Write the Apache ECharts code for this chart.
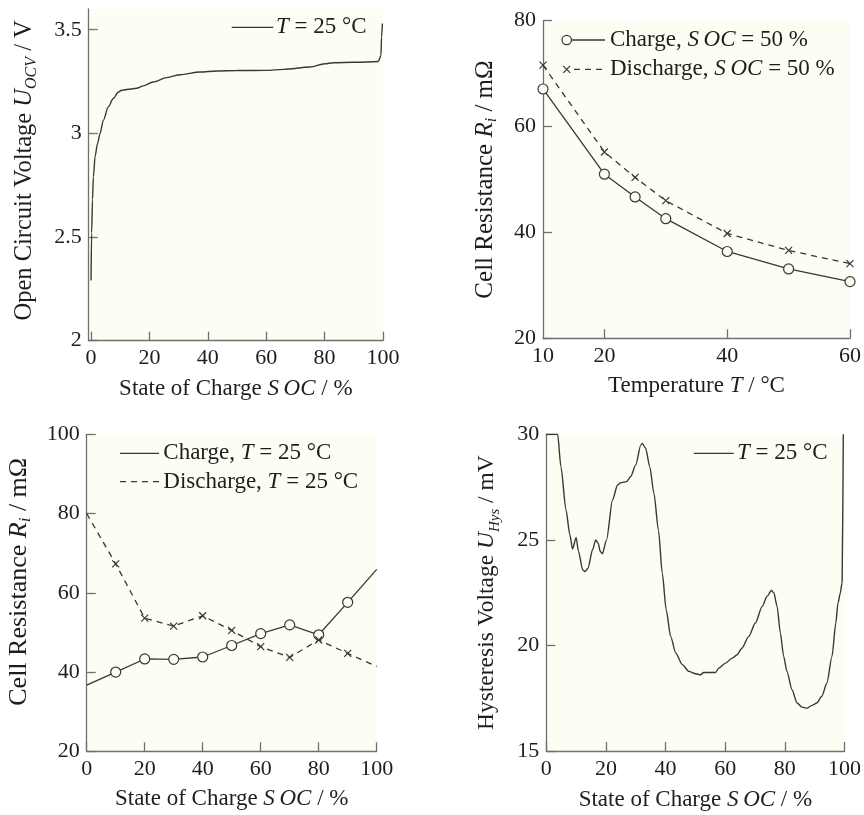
<!DOCTYPE html>
<html>
<head>
<meta charset="utf-8">
<script src="https://cdn.jsdelivr.net/npm/echarts@6/dist/echarts.min.js"></script>
<style>
  html, body { margin: 0; padding: 0; background: #ffffff; }
  #chart { width: 864px; height: 815px; }
</style>
</head>
<body>
<div id="chart"></div>
<script>
// Open circuit voltage over state of charge, T = 25 °C
const ocvSoc = [0, 0.2, 0.5, 0.8, 1.4, 2.2, 3.1, 4.2, 5.9, 7.6, 9.4, 10.5, 12.8, 15.6, 17.9, 21.3,
  25.9, 30.5, 37.3, 43.0, 50.0, 60.0, 65.9, 75.0, 80.1, 83.0, 90.0, 94.4, 98.4, 99.3, 99.5, 99.8];
const ocvVoltage = [2.29, 2.52, 2.68, 2.79, 2.89, 2.95, 3.0, 3.063, 3.128, 3.168, 3.2, 3.208, 3.213, 3.218, 3.229, 3.248,
  3.269, 3.283, 3.296, 3.301, 3.303, 3.304, 3.309, 3.32, 3.336, 3.341, 3.343, 3.344, 3.347, 3.376, 3.465, 3.53];

// Cell resistance over temperature, SOC = 50 %
const tempC = [10, 20, 25, 30, 40, 50, 60];
const resChargeByTemp = [67.1, 51.0, 46.7, 42.6, 36.4, 33.1, 30.7];
const resDischargeByTemp = [71.6, 55.2, 50.4, 46.0, 39.8, 36.6, 34.1];

// Cell resistance over state of charge, T = 25 °C
const socSteps = [0, 10, 20, 30, 40, 50, 60, 70, 80, 90, 100];
const resChargeBySoc = [36.7, 40.0, 43.3, 43.2, 43.8, 46.7, 49.7, 51.9, 49.4, 57.6, 65.9];
const resDischargeBySoc = [80.0, 67.3, 53.6, 51.6, 54.2, 50.5, 46.4, 43.7, 48.1, 44.7, 41.4];

// Hysteresis voltage over state of charge, T = 25 °C
const hysSoc = [0, 3.8, 4.9, 6.6, 7.9, 8.8, 10.0, 10.8, 12.2, 13.0, 14.0, 15.5, 16.6, 17.4, 18.1, 18.8,
  20.2, 22.2, 23.9, 25.0, 26.9, 28.3, 30.0, 31.7, 32.2, 33.3, 34.7, 36.1, 37.6, 38.9, 40.2, 41.7,
  43.4, 45.6, 47.8, 50.1, 51.7, 52.8, 56.7, 57.9, 60.1, 62.3, 64.0, 65.6, 67.9, 70.1, 72.4, 74.0,
  75.5, 76.3, 77.4, 78.5, 79.6, 80.7, 82.4, 84.1, 85.7, 87.4, 89.1, 90.7, 92.4, 94.1, 95.8, 97.1,
  97.8, 98.6, 99.2, 99.6];
const hysVoltage = [30, 30, 28.47, 26.42, 25.24, 24.57, 25.11, 24.45, 23.58, 23.5, 23.66, 24.53, 25.0, 24.84, 24.45, 24.34,
  25.0, 26.89, 27.6, 27.71, 27.76, 28.0, 28.55, 29.5, 29.57, 29.34, 28.47, 27.2, 25.47, 23.42, 21.69, 20.43,
  19.64, 19.09, 18.77, 18.66, 18.61, 18.72, 18.72, 18.93, 19.16, 19.4, 19.56, 19.87, 20.43, 21.06, 21.85, 22.32,
  22.6, 22.5, 21.85, 20.58, 19.48, 18.77, 17.9, 17.27, 17.08, 17.03, 17.16, 17.27, 17.59, 18.22, 19.48, 21.06,
  22.0, 22.48, 23.0, 30];

// Tick positions
const socTicks = [0, 20, 40, 60, 80, 100];
const ocvTicks = [2, 2.5, 3, 3.5];
const tempLabels = [10, 20, 40, 60];
const tempTicks = [20, 40, 60];
const resTicksTemp = [20, 40, 60, 80];
const resTicksSoc = [20, 40, 60, 80, 100];
const hysTicks = [15, 20, 25, 30];

const FONT = '"Liberation Serif", "DejaVu Serif", serif';
const INK = '#1e1e1e';
const LINE = '#383838';
const AXIS = '#707070';
const PAPER = '#fdfdf4';
const DASH = [6, 5];

// axis title styles with italic symbols and subscripts
function nameStyle(size, lead, shift) {
  const subSize = Math.round(size * 0.65);
  return {
    fontFamily: FONT, fontSize: size, color: INK, lineHeight: lead,
    padding: [0, 0, 0, shift || 0],
    rich: {
      i: { fontFamily: FONT, fontSize: size, fontStyle: 'italic', color: INK, lineHeight: lead },
      sub: { fontFamily: FONT, fontSize: subSize, fontStyle: 'italic', color: INK, lineHeight: subSize,
             verticalAlign: 'top', padding: [lead - subSize, 0, 0, 0] }
    }
  };
}

function makeAxis(gridIndex, min, max, labels, ticks, name, nameGap, textStyle) {
  return {
    type: 'value', gridIndex, min, max,
    axisLine: { show: true, onZero: false, lineStyle: { color: AXIS, width: 1.3 } },
    axisTick: { show: true, inside: true, length: 9, customValues: ticks,
                lineStyle: { color: AXIS, width: 1.3 } },
    axisLabel: { customValues: labels, color: INK, fontFamily: FONT, fontSize: 22, margin: 7 },
    splitLine: { show: false },
    name, nameLocation: 'middle', nameGap,
    nameTextStyle: textStyle
  };
}

function pairs(xs, ys) { return xs.map((x, i) => [x, ys[i]]); }
// interior points carry a marker, the two end points do not
function pairsInnerMarked(xs, ys) {
  return xs.map((x, i) => (i === 0 || i === xs.length - 1)
    ? { value: [x, ys[i]], symbol: 'none' } : [x, ys[i]]);
}

const CROSS = 'path://M0,0L10,10M10,0L0,10';
const socName = 'State of Charge {i|S\u2009OC} / %';
const xName = nameStyle(23, 28, 0);

const circleStyle = { color: PAPER, borderColor: LINE, borderWidth: 1.2 };
const crossStyle = { color: LINE, borderColor: LINE, borderWidth: 1.2 };
const base = { type: 'line', silent: true, animation: false, clip: true };

// legend pieces drawn as plain graphics
function legendText(x, y, text) {
  return { type: 'text', x, y, silent: true,
    style: { text, fontFamily: FONT, fontSize: 23, fill: INK, verticalAlign: 'middle',
             rich: { i: { fontFamily: FONT, fontSize: 23, fontStyle: 'italic', fill: INK } } } };
}
function legendLine(x1, x2, y, dashed) {
  return { type: 'line', silent: true, shape: { x1, y1: y, x2, y2: y },
    style: { stroke: LINE, lineWidth: 1.3, lineDash: dashed ? DASH : null } };
}
function legendCross(cx, cy, h) {
  return [
    { type: 'line', silent: true, shape: { x1: cx - h, y1: cy - h, x2: cx + h, y2: cy + h },
      style: { stroke: LINE, lineWidth: 1.2 } },
    { type: 'line', silent: true, shape: { x1: cx + h, y1: cy - h, x2: cx - h, y2: cy + h },
      style: { stroke: LINE, lineWidth: 1.2 } }
  ];
}

const option = {
  backgroundColor: '#ffffff',
  animation: false,
  grid: [
    { left: 88.7, top: 9, width: 294.3, height: 331.7, show: true, backgroundColor: PAPER, borderWidth: 0 },
    { left: 543, top: 20.7, width: 307.3, height: 317.6, show: true, backgroundColor: PAPER, borderWidth: 0 },
    { left: 86.7, top: 434.3, width: 290, height: 317, show: true, backgroundColor: PAPER, borderWidth: 0 },
    { left: 546.3, top: 434.3, width: 299, height: 317, show: true, backgroundColor: PAPER, borderWidth: 0 }
  ],
  xAxis: [
    makeAxis(0, -0.8, 100, socTicks, socTicks, socName, 34, xName),
    makeAxis(1, 10, 60, tempLabels, tempTicks, 'Temperature {i|T} / °C', 34, xName),
    makeAxis(2, 0, 100, socTicks, socTicks, socName, 34, xName),
    makeAxis(3, 0, 100, socTicks, socTicks, socName, 35, xName)
  ],
  yAxis: [
    makeAxis(0, 2, 3.6, ocvTicks, ocvTicks, 'Open Circuit Voltage {i|U}{sub|OCV} / V', 49, nameStyle(24.5, 30, 9)),
    makeAxis(1, 20, 80, resTicksTemp, resTicksTemp, 'Cell Resistance {i|R}{sub|i} / mΩ', 43, nameStyle(25, 30, 0)),
    makeAxis(2, 20, 100, resTicksSoc, resTicksSoc, 'Cell Resistance {i|R}{sub|i} / mΩ', 53, nameStyle(26, 30, 22)),
    makeAxis(3, 15, 30, hysTicks, hysTicks, 'Hysteresis Voltage {i|U}{sub|Hys} / mV', 44, nameStyle(23.5, 30, 0))
  ],
  series: [
    Object.assign({}, base, {
      xAxisIndex: 0, yAxisIndex: 0, data: pairs(ocvSoc, ocvVoltage), symbol: 'none',
      smooth: 0.3, smoothMonotone: 'x', lineStyle: { color: LINE, width: 1.4 }
    }),
    Object.assign({}, base, {
      xAxisIndex: 1, yAxisIndex: 1, data: pairs(tempC, resChargeByTemp),
      symbol: 'circle', symbolSize: 10, itemStyle: circleStyle, lineStyle: { color: LINE, width: 1.3 }
    }),
    Object.assign({}, base, {
      xAxisIndex: 1, yAxisIndex: 1, data: pairs(tempC, resDischargeByTemp),
      symbol: CROSS, symbolSize: 7, itemStyle: crossStyle, lineStyle: { color: LINE, width: 1.3, type: DASH }
    }),
    Object.assign({}, base, {
      xAxisIndex: 2, yAxisIndex: 2, data: pairsInnerMarked(socSteps, resChargeBySoc),
      symbol: 'circle', symbolSize: 10, itemStyle: circleStyle, lineStyle: { color: LINE, width: 1.3 }
    }),
    Object.assign({}, base, {
      xAxisIndex: 2, yAxisIndex: 2, data: pairsInnerMarked(socSteps, resDischargeBySoc),
      symbol: CROSS, symbolSize: 7, itemStyle: crossStyle, lineStyle: { color: LINE, width: 1.3, type: DASH }
    }),
    Object.assign({}, base, {
      xAxisIndex: 3, yAxisIndex: 3, data: pairs(hysSoc, hysVoltage), symbol: 'none',
      smooth: 0.25, smoothMonotone: 'x', lineStyle: { color: LINE, width: 1.4 }
    })
  ],
  graphic: [
    // OCV legend
    legendLine(231.7, 273.3, 27.3, false),
    legendText(276, 27.3, '{i|T} = 25 °C'),
    // resistance over temperature legend
    { type: 'circle', silent: true, shape: { cx: 566.7, cy: 40, r: 4.7 },
      style: { fill: PAPER, stroke: LINE, lineWidth: 1.2 } },
    legendLine(571.4, 605, 40, false),
    legendText(610, 40, 'Charge, {i|S\u2009OC} = 50 %'),
    ...legendCross(566.7, 69.3, 3.5),
    legendLine(574, 605, 69.3, true),
    legendText(610, 69.3, 'Discharge, {i|S\u2009OC} = 50 %'),
    // resistance over SOC legend
    legendLine(120, 159, 453.3, false),
    legendText(163.3, 453.3, 'Charge, {i|T} = 25 °C'),
    legendLine(120, 159, 481.7, true),
    legendText(163.3, 481.7, 'Discharge, {i|T} = 25 °C'),
    // hysteresis legend
    legendLine(693.7, 733.7, 453.3, false),
    legendText(737, 453.3, '{i|T} = 25 °C')
  ]
};

const chart = echarts.init(document.getElementById('chart'), null, { renderer: 'canvas' });
chart.setOption(option);
</script>
</body>
</html>
